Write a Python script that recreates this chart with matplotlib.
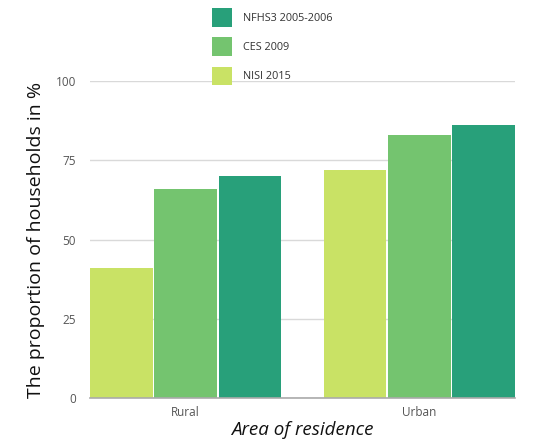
import matplotlib
matplotlib.use("Agg")
import matplotlib.pyplot as plt
import numpy as np

plt.rcParams['font.family'] = ['Open Sans', 'DejaVu Sans']

categories = ["Rural", "Urban"]
series_names = ["NISI 2015", "CES 2009", "NFHS3 2005-2006"]
series_values = {
    "NISI 2015": [41, 72],
    "CES 2009": [66, 83],
    "NFHS3 2005-2006": [70, 86],
}
colors = {
    "NISI 2015": "#C9E265",
    "CES 2009": "#74C46F",
    "NFHS3 2005-2006": "#28A07A",
}
yticks = [0, 25, 50, 75, 100]

fig = plt.figure(figsize=(5.6, 4.48), dpi=100)
ax = fig.add_axes([90/560, 1-398/448, (515-90)/560, (398-81)/448])

x = np.arange(len(categories))
step = 0.2756
width = 0.268
handles = []
for i, name in enumerate(series_names):
    b = ax.bar(x + (i - 1) * step, series_values[name], width=width,
               color=colors[name], label=name, zorder=3)
    handles.append(b)

ax.set_xlim(-0.409, 1.409)
ax.set_ylim(0, 100)
ax.set_yticks(yticks)
ax.set_yticklabels([str(t) for t in yticks])
ax.set_xticks(x)
ax.set_xticklabels(categories)
ax.tick_params(axis='both', length=0, labelsize=8.5, colors='#555555')
ax.tick_params(axis='y', pad=10)
ax.tick_params(axis='x', pad=6)
ax.yaxis.grid(True, color='#d9d9d9', linewidth=1, zorder=0)
ax.set_axisbelow(True)
for s in ['top', 'right', 'left']:
    ax.spines[s].set_visible(False)
ax.spines['bottom'].set_color('#aaaaaa')
ax.spines['bottom'].set_linewidth(1.2)
ax.spines['bottom'].set_zorder(4)

ax.set_ylabel("The proportion of households in %", fontsize=14, color='#111111', labelpad=8)
ax.set_xlabel("Area of residence", fontsize=13.5, style='italic', color='#111111', labelpad=1)

leg = fig.legend(handles[::-1], [h.get_label() for h in handles[::-1]],
                 loc='upper left', bbox_to_anchor=(208/560, 1 - 4/448),
                 frameon=False, fontsize=7.8, handlelength=1.85, handleheight=2.3,
                 labelspacing=0.95, handletextpad=1.0, borderaxespad=0)
for t in leg.get_texts():
    t.set_color('#333333')

fig.savefig("out.png", dpi=100)
